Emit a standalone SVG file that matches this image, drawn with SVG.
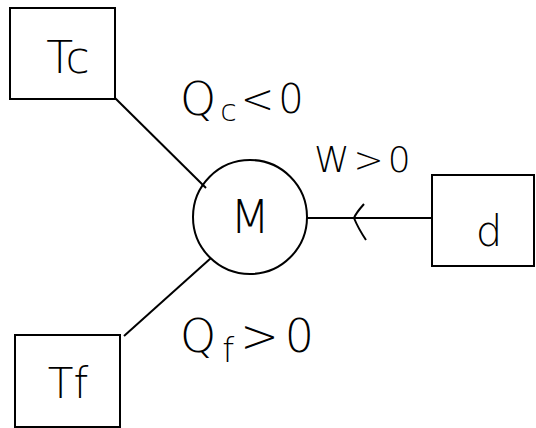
<svg xmlns="http://www.w3.org/2000/svg" width="536" height="428" viewBox="0 0 536 428">
<style>
.box{fill:#fff;stroke:#000;stroke-width:2}
.ln{stroke:#000;stroke-width:2;fill:none}
.t{font-family:"DejaVu Sans","Liberation Sans",sans-serif;font-weight:200;fill:#000}
</style>
<rect width="536" height="428" fill="#fff"/>
<g id="connectors">
<line class="ln" x1="115" y1="98" x2="206" y2="188"/>
<line class="ln" x1="124" y1="336" x2="211" y2="258"/>
<line class="ln" x1="307" y1="218" x2="433" y2="218"/>
<path class="ln" d="M364 204 Q356 213 354 218 Q358 228 366 240"/>
</g>
<g id="Tc">
<rect class="box" x="10" y="8" width="105" height="91"/>
<text class="t" x="68" y="73" font-size="44" text-anchor="middle">Tc</text>
</g>
<g id="M">
<circle class="ln" cx="250" cy="217" r="57"/>
<text class="t" x="250" y="233" font-size="46" text-anchor="middle">M</text>
</g>
<g id="d">
<rect class="box" x="432" y="175" width="102" height="91"/>
<text class="t" x="489" y="246" font-size="42" text-anchor="middle">d</text>
</g>
<g id="Tf">
<rect class="box" x="15" y="335" width="105" height="92"/>
<text class="t" x="68" y="398" font-size="42" text-anchor="middle">Tf</text>
</g>
<g id="labels">
<text class="t" x="180" y="115" font-size="46" letter-spacing="4">Q<tspan font-size="30" dy="6">c</tspan><tspan dy="-8" font-size="40">&lt;0</tspan></text>
<text class="t" x="314" y="172" font-size="36" letter-spacing="4">W&gt;0</text>
<text class="t" x="180" y="352" font-size="46" letter-spacing="6">Q<tspan font-size="34" dy="10">f</tspan><tspan dy="-10">&gt;0</tspan></text>
</g>
</svg>
